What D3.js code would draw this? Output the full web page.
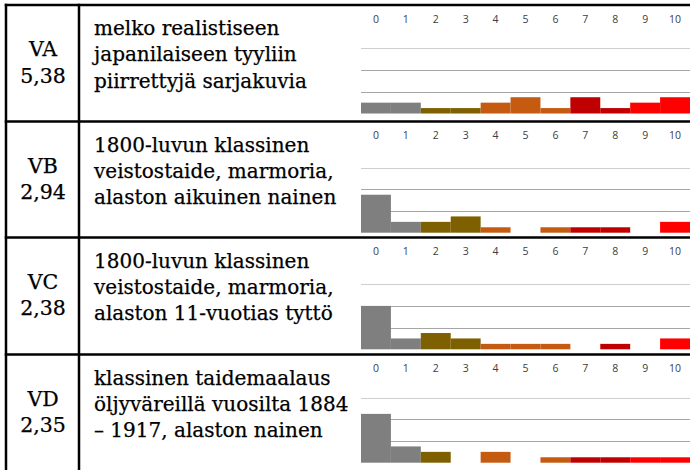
<!DOCTYPE html>
<html>
<head>
<meta charset="utf-8">
<script src="https://cdn.jsdelivr.net/npm/d3@7"></script>
<style>
  html, body { margin: 0; padding: 0; background: #fff; }
  svg { display: block; }
</style>
</head>
<body>
<svg id="chart" width="690" height="470"></svg>
<script>
// Table rows: code, mean score, description lines
const rowCodes = ["VA", "VB", "VC", "VD"];
const rowMeans = ["5,38", "2,94", "2,38", "2,35"];
const rowDescriptions = [
  ["melko realistiseen", "japanilaiseen tyyliin", "piirrettyjä sarjakuvia"],
  ["1800-luvun klassinen", "veistostaide, marmoria,", "alaston aikuinen nainen"],
  ["1800-luvun klassinen", "veistostaide, marmoria,", "alaston 11-vuotias tyttö"],
  ["klassinen taidemaalaus", "öljyväreillä vuosilta 1884", "– 1917, alaston nainen"]
];

// Score categories shown above each histogram
const scoreLabels = ["0", "1", "2", "3", "4", "5", "6", "7", "8", "9", "10"];

// Number of answers per score, one array per row
const countsVA = [2, 2, 1, 1, 2, 3, 1, 3, 1, 2, 3];
const countsVB = [7, 2, 2, 3, 1, 0, 1, 1, 1, 0, 2];
const countsVC = [8, 2, 3, 2, 1, 1, 1, 0, 1, 0, 2];
const countsVD = [9, 3, 2, 0, 2, 0, 1, 1, 1, 1, 1];
const rowCounts = [countsVA, countsVB, countsVC, countsVD];

// Value-axis gridlines
const gridValues = [4, 8, 12];

const svg = d3.select("#chart");

const W = 690, H = 470;
const tableLeft = 6, codeColRight = 79;
const rowTops = [5, 121.5, 237.5, 354.5];
const plotBaselines = [113.5, 232.7, 349.3, 462.7];
const plotLeft = 361, plotRight = 690;

// Colour groups by score
const colorScale = d3.scaleThreshold()
  .domain([2, 4, 7, 9])
  .range(["#7f7f7f", "#7f6000", "#c55a11", "#c00000", "#ff0000"]);

const x = d3.scaleBand()
  .domain(scoreLabels)
  .range([plotLeft, plotRight])
  .padding(0);

const serif = "'DejaVu Serif', 'Liberation Serif', serif";

rowCodes.forEach((code, i) => {
  const top = rowTops[i];
  const baseline = plotBaselines[i];
  const y = d3.scaleLinear()
    .domain([0, 16])
    .range([baseline, baseline - 86.8]);

  const g = svg.append("g").attr("class", "row row-" + code);

  // code + mean in the first column
  const codeX = (tableLeft + codeColRight) / 2 + 0.5;
  [code, rowMeans[i]].forEach((t, k) => {
    g.append("text")
      .attr("x", codeX).attr("y", top + 51 + k * 26.5)
      .attr("text-anchor", "middle")
      .attr("font-family", serif).attr("font-size", 20.5)
      .attr("fill", "#000")
      .attr("stroke", "#000").attr("stroke-width", 0.25)
      .text(t);
  });

  // description
  g.append("g").selectAll("text")
    .data(rowDescriptions[i])
    .join("text")
    .attr("x", 94)
    .attr("y", (d, k) => top + 30 + k * 26.3)
    .attr("font-family", serif).attr("font-size", 20)
    .attr("fill", "#000")
    .attr("stroke", "#000").attr("stroke-width", 0.25)
    .text(d => d);

  // gridlines
  g.append("g").selectAll("line")
    .data(gridValues)
    .join("line")
    .attr("x1", plotLeft).attr("x2", plotRight)
    .attr("y1", d => Math.round(y(d)) + 0.5)
    .attr("y2", d => Math.round(y(d)) + 0.5)
    .attr("stroke", (d, k) => k === gridValues.length - 1 ? "#cfcfcf" : "#a6a6a6")
    .attr("stroke-width", 1);

  // bars
  g.append("g").selectAll("rect")
    .data(rowCounts[i].map((v, k) => ({ score: scoreLabels[k], idx: k, value: v })))
    .join("rect")
    .attr("x", d => x(d.score))
    .attr("width", x.bandwidth())
    .attr("y", d => y(d.value))
    .attr("height", d => y(0) - y(d.value))
    .attr("fill", d => colorScale(d.idx));

  // category axis on top
  const axis = d3.axisTop(x).tickSize(0).tickPadding(0);
  const ax = g.append("g")
    .attr("transform", `translate(0,${top + 17.5})`)
    .call(axis);
  ax.select(".domain").remove();
  ax.selectAll("text")
    .attr("font-family", "'Open Sans', 'Liberation Sans', sans-serif")
    .attr("font-size", 10.5)
    .attr("fill", "#404040")
    .attr("dy", 0);
});

// table borders
const borders = svg.append("g").attr("stroke", "#000").attr("stroke-width", 2.5);
borders.selectAll("line.h")
  .data(rowTops)
  .join("line")
  .attr("class", "h")
  .attr("x1", tableLeft - 1.25).attr("x2", W)
  .attr("y1", d => d).attr("y2", d => d);
borders.selectAll("line.v")
  .data([tableLeft, codeColRight])
  .join("line")
  .attr("class", "v")
  .attr("x1", d => d).attr("x2", d => d)
  .attr("y1", rowTops[0] - 1.25).attr("y2", H);
</script>
</body>
</html>
